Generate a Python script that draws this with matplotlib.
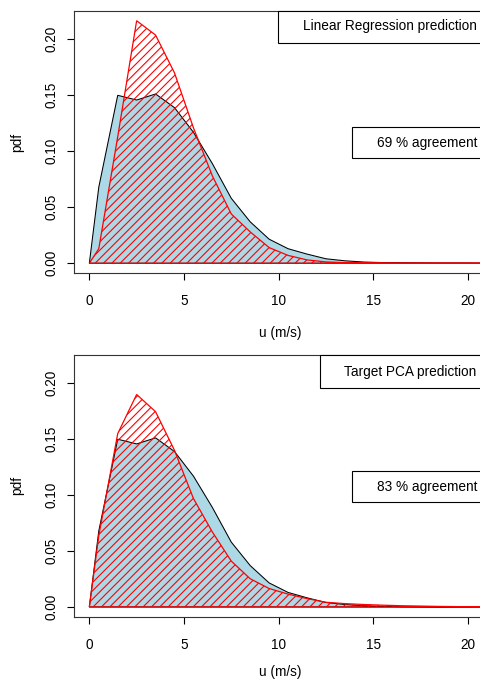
import numpy as np
import matplotlib.pyplot as plt
from matplotlib.patches import Rectangle
from matplotlib.ticker import FormatStrFormatter

plt.rcParams['font.family'] = ['Liberation Sans', 'DejaVu Sans']
plt.rcParams['hatch.linewidth'] = 0.8

# wind speed bins (m/s): origin + bin centres
u = [0.0] + [0.5 + i for i in range(25)]

# observed pdf (blue)
obs = [0, 0.068, 0.150, 0.1458, 0.1512, 0.139, 0.117, 0.089, 0.058, 0.037,
       0.0215, 0.013, 0.0082, 0.0040, 0.0022, 0.0011, 0.0006, 0.0003, 0.0002,
       0.0001, 0.0001, 0, 0, 0, 0, 0]

# predicted pdfs (red hatched)
lr_pred = [0, 0.013, 0.113, 0.2166, 0.2038, 0.170, 0.121, 0.078, 0.044, 0.028,
           0.014, 0.007, 0.003, 0.0012, 0.0005, 0.0002, 0.0001, 0, 0, 0, 0,
           0, 0, 0, 0, 0]
pca_pred = [0, 0.064, 0.155, 0.190, 0.1746, 0.140, 0.097, 0.067, 0.041, 0.0252,
            0.0165, 0.0115, 0.0075, 0.0042, 0.003, 0.0022, 0.0016, 0.0011,
            0.0008, 0.0005, 0.0003, 0.0002, 0.0001, 0.0001, 0, 0]

titles = ["Linear Regression prediction", "Target PCA prediction"]
agreement = [69, 83]
preds = [lr_pred, pca_pred]

W, H = 481, 682
fig = plt.figure(figsize=(W / 100, H / 100), dpi=100)

# axes boxes in pixels: (left, right, top, bottom)
boxes = [(74, 487, 11, 273), (74, 487, 355, 616.7)]
xlab_y = [-0.229, -0.213]
# legend boxes in axes coords: (box left, box bottom, text left, text y)
title_box = [(0.4947, 0.8767, 0.5552, 0.9416), (0.5949, 0.8751, 0.6545, 0.9362)]
agree_box = [(0.6738, 0.4378, 0.7329, 0.4973), (0.6738, 0.4371, 0.7329, 0.4967)]

fs = 9.8
for k in range(2):
    l, r, t, b = boxes[k]
    ax = fig.add_axes([l / W, (H - b) / H, (r - l) / W, (b - t) / H])

    ax.fill(u, obs, facecolor='lightblue', edgecolor='black', lw=0.75)
    ax.fill(u, preds[k], facecolor='none', edgecolor='red', hatch='////', lw=0.9)

    ax.set_xlim(-0.81, 21.01)
    ax.set_ylim(-0.0087, 0.2253)
    ax.set_xticks([0, 5, 10, 15, 20])
    ax.set_yticks([0, 0.05, 0.10, 0.15, 0.20])
    ax.yaxis.set_major_formatter(FormatStrFormatter('%.2f'))
    ax.tick_params(length=5, width=0.8, labelsize=fs)
    ax.tick_params(axis='x', pad=10)
    ax.tick_params(axis='y', labelrotation=90, pad=6)
    for lab in ax.get_yticklabels():
        lab.set_va('center')
    for s in ax.spines.values():
        s.set_linewidth(0.8)
        s.set_color('#333333')

    ax.set_xlabel("u (m/s)", fontsize=fs, va='center')
    ax.xaxis.set_label_coords(0.5, xlab_y[k])
    ax.set_ylabel("pdf", fontsize=fs, va='center')
    ax.yaxis.set_label_coords(-0.1368, 0.5)

    # legend-like boxes
    bl, bb, tl, ty = title_box[k]
    ax.add_patch(Rectangle((bl, bb), 1.05 - bl, 1.0 - bb, transform=ax.transAxes,
                           facecolor='white', edgecolor='black', lw=0.8,
                           clip_on=False, zorder=5))
    ax.text(tl, ty, titles[k], transform=ax.transAxes, fontsize=fs,
            va='center', ha='left', zorder=6)

    bl, bb, tl, ty = agree_box[k]
    top = 2 * ty - bb
    ax.add_patch(Rectangle((bl, bb), 1.05 - bl, top - bb, transform=ax.transAxes,
                           facecolor='white', edgecolor='black', lw=0.8,
                           clip_on=False, zorder=5))
    ax.text(tl, ty, f"{agreement[k]} % agreement", transform=ax.transAxes,
            fontsize=fs, va='center', ha='left', zorder=6)

fig.savefig("out.png", dpi=100)
